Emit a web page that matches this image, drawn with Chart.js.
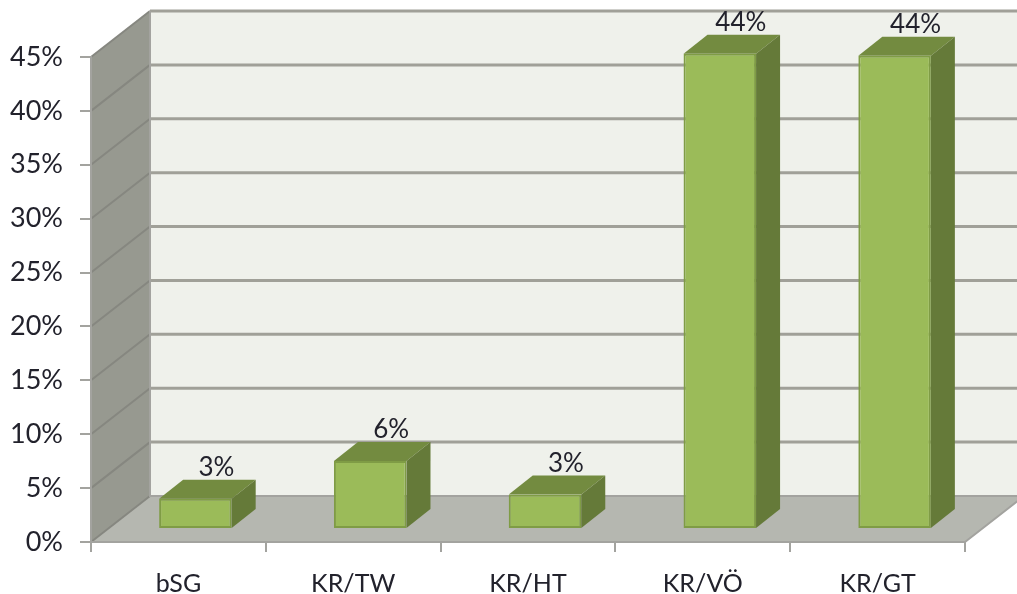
<!DOCTYPE html>
<html>
<head>
<meta charset="utf-8">
<script src="https://cdn.jsdelivr.net/npm/chart.js@4"></script>
<style>
	html, body { margin: 0; padding: 0; background: #fff; overflow: hidden; }
	#wrap { width: 1017px; height: 594px; }
	canvas { filter: blur(0.7px); }
</style>
</head>
<body>
<div id="wrap"><canvas id="chart"></canvas></div>
<script>
const categories = ['bSG', 'KR/TW', 'KR/HT', 'KR/VÖ', 'KR/GT'];
const values = [2.8, 6.3, 3.2, 44.1, 43.9];
const valueLabels = ['3%', '6%', '3%', '44%', '44%'];

const FONT = 'Lato, "Open Sans", sans-serif';
// depth of the box, and where the bars stand inside it
const WALL_DX = 59, WALL_DY = -46;
const BAR_DX = 17, BAR_DY = -13;
const SIDE_DX = 24, SIDE_DY = -19;

function poly(ctx, pts, fill) {
	ctx.beginPath();
	pts.forEach((p, i) => i ? ctx.lineTo(p[0], p[1]) : ctx.moveTo(p[0], p[1]));
	ctx.closePath();
	ctx.fillStyle = fill;
	ctx.fill();
}

const box3d = {
	id: 'box3d',
	// walls and floor
	beforeDraw(chart) {
		const { ctx, chartArea: a, scales: { y } } = chart;
		const W = chart.width + 10;
		const top = y.getPixelForValue(45), bot = y.getPixelForValue(0);
		const backX = a.left + WALL_DX;
		ctx.save();
		poly(ctx, [[backX, top + WALL_DY], [W, top + WALL_DY], [W, bot + WALL_DY], [backX, bot + WALL_DY]], '#eff1eb');
		poly(ctx, [[a.left, top], [backX, top + WALL_DY], [backX, bot + WALL_DY], [a.left, bot]], '#979990');
		poly(ctx, [[a.left, bot], [a.right, bot], [a.right + WALL_DX, bot + WALL_DY], [backX, bot + WALL_DY]], '#b5b7b0');
		ctx.strokeStyle = '#a0a098';
		ctx.lineWidth = 3;
		y.ticks.forEach(t => {
			const py = y.getPixelForValue(t.value);
			if (t.value > 0) {
				ctx.beginPath();
				ctx.moveTo(backX, py + WALL_DY);
				ctx.lineTo(W, py + WALL_DY);
				ctx.stroke();
			}
		});
		ctx.lineWidth = 2;
		ctx.strokeStyle = '#868780';
		y.ticks.forEach(t => {
			const py = y.getPixelForValue(t.value);
			ctx.beginPath();
			ctx.moveTo(a.left, py);
			ctx.lineTo(backX, py + WALL_DY);
			ctx.stroke();
		});
		ctx.strokeStyle = '#a3a39f';
		ctx.beginPath();
		ctx.moveTo(backX, top + WALL_DY);
		ctx.lineTo(backX, bot + WALL_DY);
		ctx.lineTo(W, bot + WALL_DY);
		ctx.moveTo(a.right, bot);
		ctx.lineTo(a.right + WALL_DX, bot + WALL_DY);
		ctx.stroke();
		ctx.restore();
	},
	// front faces are the library's bars, pushed into the box
	beforeDatasetDraw(chart) {
		chart.ctx.save();
		chart.ctx.translate(BAR_DX, BAR_DY);
	},
	afterDatasetDraw(chart) {
		const { ctx } = chart;
		chart.getDatasetMeta(0).data.forEach((bar, i) => {
			const l = bar.x - bar.width / 2, r = bar.x + bar.width / 2;
			poly(ctx, [[l, bar.y], [r, bar.y], [r + SIDE_DX, bar.y + SIDE_DY], [l + SIDE_DX, bar.y + SIDE_DY]], '#738b40');
			poly(ctx, [[r, bar.y], [r + SIDE_DX, bar.y + SIDE_DY], [r + SIDE_DX, bar.base + SIDE_DY], [r, bar.base]], '#657a39');
			ctx.fillStyle = '#22222c';
			ctx.font = '26px ' + FONT;
			ctx.textAlign = 'center';
			ctx.textBaseline = 'middle';
			ctx.fillText(valueLabels[i], bar.x + 21, bar.y + SIDE_DY - 12);
		});
		ctx.restore();
	}
};

new Chart(document.getElementById('chart'), {
	type: 'bar',
	plugins: [box3d],
	data: {
		labels: categories,
		datasets: [{
			data: values,
			backgroundColor: '#9bbb59',
			borderColor: '#7f9c45',
			borderWidth: 2,
			borderSkipped: false,
			barPercentage: 0.415,
			categoryPercentage: 1,
			clip: false
		}]
	},
	options: {
		responsive: true,
		maintainAspectRatio: false,
		animation: false,
		layout: { padding: { top: 57, right: 52, left: 0, bottom: 0 } },
		plugins: { legend: { display: false }, tooltip: { enabled: false } },
		scales: {
			x: {
				afterFit: s => { s.height = 52; },
				grid: { drawOnChartArea: false, color: '#a3a39f', lineWidth: 2, tickLength: 10 },
				border: { color: '#a3a39f', width: 2 },
				ticks: { color: '#22222c', font: { family: FONT, size: 25 }, padding: 17, maxRotation: 0 }
			},
			y: {
				min: 0,
				max: 45,
				afterFit: s => { s.width = 91; },
				grid: { drawOnChartArea: false, color: '#a3a39f', lineWidth: 2, tickLength: 11 },
				border: { color: '#a3a39f', width: 2 },
				ticks: {
					stepSize: 5,
					color: '#22222c',
					font: { family: FONT, size: 27 },
					padding: 17,
					callback: v => v + '%'
				}
			}
		}
	}
});
</script>
</body>
</html>
